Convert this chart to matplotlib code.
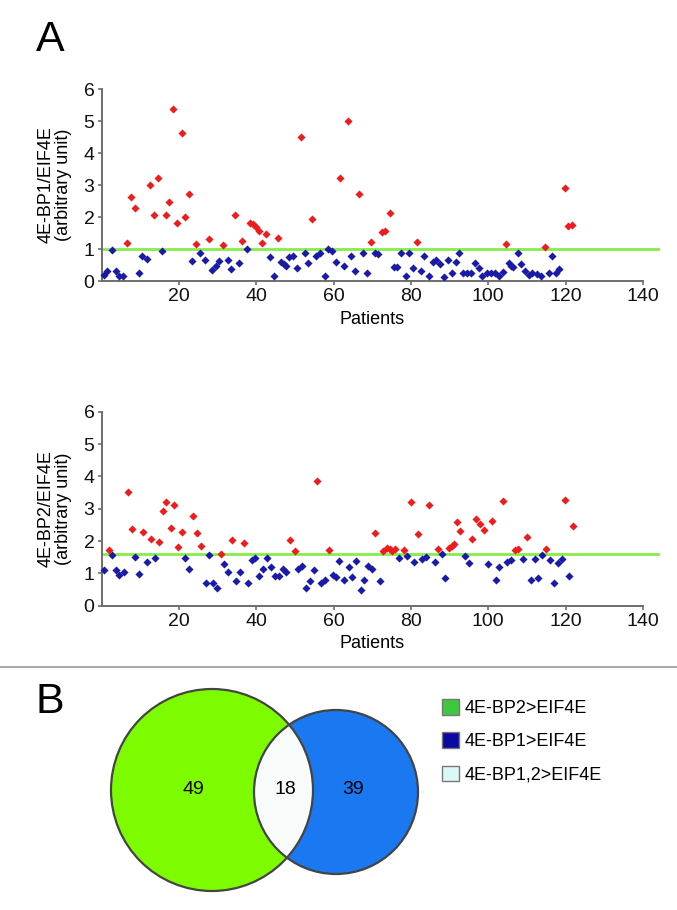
import matplotlib
matplotlib.use("Agg")
import matplotlib.pyplot as plt
from matplotlib.patches import Circle, Patch
from matplotlib.lines import Line2D

plt.rcParams["font.family"] = ["Liberation Sans", "DejaVu Sans"]

# ---------------------------------------------------------------------------
# Data
# ---------------------------------------------------------------------------
bp1_hi_x = [6.5, 7.5, 8.6, 12.5, 13.5, 14.6, 16.6, 17.5, 18.4, 19.4, 20.7, 21.7, 22.6,
            24.4, 27.7, 31.4, 34.6, 36.4, 38.5, 39.2, 39.9, 40.7, 41.6, 42.5, 45.6,
            51.7, 54.5, 61.6, 63.7, 66.5, 69.6, 72.6, 73.3, 74.5, 81.5, 104.5, 114.7,
            119.8, 120.7, 121.7]
bp1_hi_y = [1.18, 2.64, 2.27, 3.0, 2.06, 3.23, 2.06, 2.48, 5.38, 1.8, 4.64, 2.01, 2.71,
            1.15, 1.31, 1.11, 2.06, 1.25, 1.82, 1.77, 1.70, 1.57, 1.2, 1.46, 1.33,
            4.49, 1.94, 3.21, 5.0, 2.71, 1.21, 1.52, 1.56, 2.11, 1.21, 1.16, 1.07,
            2.9, 1.72, 1.75]
bp1_lo_x = [0.6, 1.5, 2.8, 3.7, 4.5, 5.6, 9.7, 10.6, 11.7, 15.7, 23.4, 25.4, 26.7, 28.6,
            29.5, 30.3, 32.7, 33.6, 35.6, 37.6, 43.6, 44.5, 46.5, 47.1, 47.6, 48.5,
            49.5, 50.6, 52.5, 53.5, 55.5, 56.6, 57.7, 58.5, 59.6, 60.7,
            62.6, 64.6, 65.6, 67.6, 68.6, 70.6, 71.6, 75.5, 76.4, 77.5, 78.6, 79.6,
            80.5, 82.5, 83.5, 84.8, 85.6, 86.5, 87.5, 88.5, 89.5, 90.6, 91.7, 92.5,
            93.5, 94.5, 95.5, 96.6, 97.7, 98.5, 99.6, 100.7, 101.7, 102.8, 103.7,
            105.3, 105.9, 106.5, 107.6, 108.4, 109.6, 110.4, 111.4, 112.5, 113.6,
            115.6, 116.6, 117.5, 118.3]
bp1_lo_y = [0.19, 0.32, 0.97, 0.32, 0.16, 0.16, 0.24, 0.79, 0.68, 0.94, 0.63, 0.89, 0.66,
            0.34, 0.48, 0.63, 0.66, 0.38, 0.57, 0.99, 0.74, 0.16, 0.6, 0.53, 0.47, 0.76,
            0.79, 0.42, 0.86, 0.55, 0.79, 0.86, 0.16, 0.99, 0.95, 0.6,
            0.48, 0.79, 0.32, 0.86, 0.26, 0.89, 0.84, 0.45, 0.45, 0.86, 0.16, 0.86,
            0.40, 0.32, 0.79, 0.16, 0.60, 0.66, 0.52, 0.14, 0.66, 0.24, 0.58, 0.86,
            0.24, 0.26, 0.26, 0.57, 0.40, 0.16, 0.24, 0.26, 0.26, 0.16, 0.27,
            0.55, 0.48, 0.43, 0.86, 0.52, 0.32, 0.19, 0.24, 0.21, 0.16,
            0.24, 0.79, 0.24, 0.38]

bp2_hi_x = [1.9, 6.8, 7.8, 10.8, 12.8, 14.8, 15.8, 16.6, 17.9, 18.8, 19.8, 20.7, 23.7,
            24.7, 25.8, 30.8, 33.8, 36.8, 48.8, 49.9, 55.8, 58.9, 70.8, 72.7, 73.8,
            74.5, 75.1, 75.9, 78.1, 80.0, 81.9, 84.8, 86.9, 89.9, 90.5, 91.1, 91.9,
            92.8, 95.8, 96.8, 97.8, 99.0, 100.9, 103.9, 107.0, 107.8, 110.0, 114.9,
            119.9, 121.9]
bp2_hi_y = [1.72, 3.53, 2.36, 2.29, 2.06, 1.98, 2.93, 3.20, 2.39, 3.11, 1.82, 2.29, 2.77,
            2.24, 1.86, 1.60, 2.03, 1.95, 2.03, 1.70, 3.86, 1.72, 2.24, 1.70, 1.80,
            1.74, 1.70, 1.75, 1.72, 3.20, 2.21, 3.11, 1.75, 1.80, 1.86, 1.90, 2.58,
            2.32, 2.06, 2.68, 2.52, 2.34, 2.63, 3.25, 1.72, 1.75, 2.11, 1.75,
            3.27, 2.46]
bp2_lo_x = [0.6, 2.8, 3.7, 4.5, 5.8, 8.6, 9.8, 11.8, 13.8, 21.7, 22.6, 26.9, 27.7, 28.8,
            29.9, 31.7, 32.7, 34.9, 35.7, 37.9, 38.8, 39.8, 40.7, 41.8, 42.8, 43.7,
            44.8, 45.9, 46.9, 47.8, 50.9, 51.9, 52.8, 53.9, 54.9, 56.8, 57.9, 59.8,
            60.7, 61.4, 62.8, 63.9, 64.8, 65.8, 67.0, 67.8, 68.9, 69.9, 71.9, 76.8,
            78.9, 80.9, 82.9, 83.9, 86.1, 88.0, 88.8, 94.0, 94.9, 99.8, 102.0, 102.8,
            104.8, 106.0, 108.9, 111.0, 112.0, 112.9, 114.0, 115.9, 117.0, 118.1,
            119.0, 120.9]
bp2_lo_y = [1.10, 1.57, 1.10, 0.95, 1.05, 1.52, 0.97, 1.36, 1.49, 1.49, 1.15, 0.69, 1.57,
            0.71, 0.54, 1.28, 1.05, 0.76, 1.03, 0.71, 1.41, 1.46, 0.92, 1.12, 1.48,
            1.19, 0.92, 0.92, 1.15, 1.03, 1.13, 1.24, 0.56, 0.76, 1.10, 0.69, 0.79,
            0.95, 0.90, 1.38, 0.79, 1.19, 0.88, 1.38, 0.48, 0.79, 1.24, 1.12, 0.76,
            1.49, 1.55, 1.36, 1.44, 1.52, 1.36, 1.60, 0.85, 1.54, 1.33, 1.28, 0.79,
            1.19, 1.36, 1.41, 1.44, 0.81, 1.44, 0.85, 1.57, 1.41, 0.69, 1.31, 1.44,
            0.92]

thresholds = [1.0, 1.6]
venn_counts = [49, 18, 39]
legend_labels = ["4E-BP2>EIF4E", "4E-BP1>EIF4E", "4E-BP1,2>EIF4E"]

RED = "#ee1c1c"
BLUE = "#1a1aa8"
LINE_GREEN = "#86ec4a"
SPINE = "#6e6e6e"

W, H = 677, 910
fig = plt.figure(figsize=(W / 100, H / 100), dpi=100)


def px_axes(left, right, top, bottom):
    return fig.add_axes([left / W, 1 - bottom / H, (right - left) / W, (bottom - top) / H])


def scatter_panel(ax, lo_x, lo_y, hi_x, hi_y, thr, ylabel):
    ax.plot([0, 144], [thr, thr], color=LINE_GREEN, lw=2, clip_on=False, zorder=1)
    ax.scatter(lo_x, lo_y, marker="D", s=17, color=BLUE, lw=0, zorder=3, clip_on=False)
    ax.scatter(hi_x, hi_y, marker="D", s=17, color=RED, lw=0, zorder=3, clip_on=False)
    ax.set_xlim(0, 140)
    ax.set_ylim(0, 6)
    ax.set_xticks([20, 40, 60, 80, 100, 120, 140])
    ax.set_yticks(range(7))
    for s in ["top", "right"]:
        ax.spines[s].set_visible(False)
    for s in ["left", "bottom"]:
        ax.spines[s].set_color(SPINE)
        ax.spines[s].set_linewidth(1.4)
    ax.tick_params(colors=SPINE, labelcolor="#111111", labelsize=14, length=3, width=1.2, pad=2)
    ax.set_xlabel("Patients", fontsize=13, labelpad=4)
    ax.set_ylabel(ylabel, fontsize=13, labelpad=8, linespacing=1.05)


ax1 = px_axes(101.5, 643, 89, 281)
scatter_panel(ax1, bp1_lo_x, bp1_lo_y, bp1_hi_x, bp1_hi_y, thresholds[0],
              "4E-BP1/EIF4E\n(arbitrary unit)")

ax2 = px_axes(101.5, 643, 411.7, 605.7)
scatter_panel(ax2, bp2_lo_x, bp2_lo_y, bp2_hi_x, bp2_hi_y, thresholds[1],
              "4E-BP2/EIF4E\n(arbitrary unit)")

# panel letters and separator
fig.text(50 / W, 1 - 40 / H, "A", fontsize=31, ha="center", va="center")
fig.text(50 / W, 1 - 702 / H, "B", fontsize=31, ha="center", va="center")
fig.add_artist(Line2D([0, 1], [1 - 666.5 / H] * 2, transform=fig.transFigure,
                      color="#aaaaaa", lw=1.5))

# ---------------------------------------------------------------------------
# Venn diagram (B)
# ---------------------------------------------------------------------------
axv = fig.add_axes([0, 0, 1, 1])
axv.set_xlim(0, W)
axv.set_ylim(H, 0)
axv.set_axis_off()

g_c, g_r = (212, 790), 101
b_c, b_r = (336, 792), 82
axv.add_patch(Circle(g_c, g_r, facecolor="#7dfc00", edgecolor="none"))
axv.add_patch(Circle(b_c, b_r, facecolor="#1a78f0", edgecolor="none"))
lens = Circle(g_c, g_r, facecolor="#f7fbfa", edgecolor="none")
axv.add_patch(lens)
clip = Circle(b_c, b_r, transform=axv.transData)
lens.set_clip_path(clip)
axv.add_patch(Circle(g_c, g_r, facecolor="none", edgecolor="#444444", lw=1.6))
axv.add_patch(Circle(b_c, b_r, facecolor="none", edgecolor="#444444", lw=1.6))

axv.text(193, 790, str(venn_counts[0]), fontsize=14, ha="center", va="center")
axv.text(285, 790, str(venn_counts[1]), fontsize=14, ha="center", va="center")
axv.text(353, 790, str(venn_counts[2]), fontsize=14, ha="center", va="center")

handles = [Patch(facecolor="#3ec83e", edgecolor="#777777"),
           Patch(facecolor="#0a0aa0", edgecolor="#777777"),
           Patch(facecolor="#daf8f5", edgecolor="#777777")]
fig.legend(handles, legend_labels, loc="upper left", bbox_to_anchor=(442 / W, 1 - 699 / H),
           frameon=False, fontsize=13, handlelength=0.95, handleheight=0.95,
           handletextpad=0.3, labelspacing=0.85, borderpad=0, borderaxespad=0)

fig.savefig("out.png", dpi=100)
